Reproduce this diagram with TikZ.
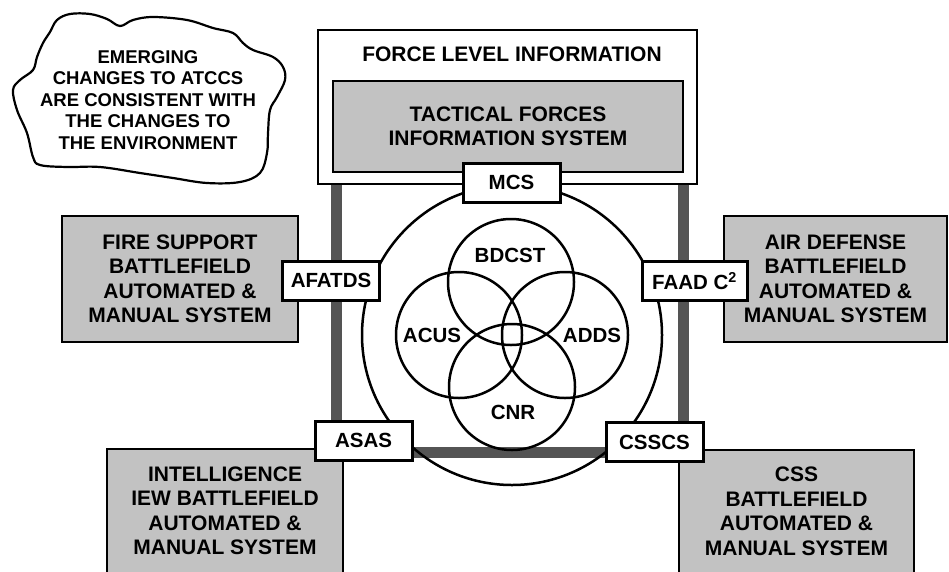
\documentclass[tikz,border=0pt]{standalone}
\usepackage{fontspec}
\setmainfont{Liberation Sans}
\usepackage{xcolor}
\usepackage{tikz}
\usetikzlibrary{backgrounds}
\definecolor{halftone}{gray}{0.76}
\definecolor{busgray}{gray}{0.33}

\begin{document}
\begin{tikzpicture}[x=1pt,y=-1pt]

	\tikzstyle{sysbox}=[draw,line width=2.5pt,fill=halftone,align=center,inner sep=0pt,font=\bfseries\fontsize{21}{24.5}\selectfont]
	\tikzstyle{tag}=[draw,line width=3pt,fill=white,minimum width=97pt,minimum height=39pt,inner sep=0pt,font=\bfseries\fontsize{20.5}{24}\selectfont]
	\tikzstyle{net}=[circle,draw,line width=2.5pt,inner sep=0pt]
	\tikzstyle{netlabel}=[font=\bfseries\fontsize{20.5}{24}\selectfont]
	\tikzstyle{bus}=[line width=11pt,draw=busgray]

	\useasboundingbox (0,0) rectangle (949,571);
	\clip (0,0) rectangle (949,571);

	% cloud
	\draw[line width=2.2pt] plot[smooth cycle,tension=0.6] coordinates {
		(50,32) (57,20) (70,14) (90,14) (107,19) (120,26) (133,20) (153,17)
		(187,20) (213,28) (233,33) (243,43) (253,50) (273,57) (283,67) (285,80)
		(277,97) (270,110) (268,133) (267,153) (260,173) (240,182) (207,183)
		(173,178) (140,173) (100,167) (67,167) (40,165) (33,157) (27,133)
		(17,110) (13,90) (20,80) (33,70) (37,57) (43,43)};
	\node[align=center,font=\bfseries\fontsize{18.5}{21.5}\selectfont] (cloudtext) at (148,100)
		{EMERGING\\CHANGES TO ATCCS\\ARE CONSISTENT WITH\\THE CHANGES TO\\THE ENVIRONMENT};

	% force level
	\node[draw,line width=2.5pt,minimum width=379pt,minimum height=154pt] (force) at (507.5,107) {};
	\node[font=\bfseries\fontsize{21}{24.5}\selectfont] (forcetitle) at (512,54) {FORCE LEVEL INFORMATION};
	\node[sysbox,minimum width=350pt,minimum height=91pt] (tfis) at (508,126.5) {TACTICAL FORCES\\INFORMATION SYSTEM};

	% networks
	\node[net,minimum size=300pt] (ring) at (512,335) {};
	\node[net,minimum size=126pt] (bdcst) at (511,282) {};
	\node[net,minimum size=126pt] (cnr) at (512,387) {};
	\node[net,minimum size=126pt] (acus) at (459,335) {};
	\node[net,minimum size=126pt] (adds) at (565,335) {};
	\node[netlabel] (bdcstlabel) at (510,255) {BDCST};
	\node[netlabel] (cnrlabel) at (513,412) {CNR};
	\node[netlabel] (acuslabel) at (432,335) {ACUS};
	\node[netlabel] (addslabel) at (592,335) {ADDS};

	% battlefield systems
	\node[sysbox,minimum width=236pt,minimum height=126pt] (fire) at (180,279) {FIRE SUPPORT\\BATTLEFIELD\\AUTOMATED \&\\MANUAL SYSTEM};
	\node[sysbox,minimum width=223pt,minimum height=126pt] (air) at (835.5,279) {AIR DEFENSE\\BATTLEFIELD\\AUTOMATED \&\\MANUAL SYSTEM};
	\node[sysbox,minimum width=236pt,minimum height=124pt] (intel) at (225,511) {INTELLIGENCE\\IEW BATTLEFIELD\\AUTOMATED \&\\MANUAL SYSTEM};
	\node[sysbox,minimum width=235pt,minimum height=123pt] (css) at (796.5,511.5) {CSS\\BATTLEFIELD\\AUTOMATED \&\\MANUAL SYSTEM};

	% tags
	\node[tag] (mcs) at (511.5,182.5) {MCS};
	\node[tag] (afatds) at (331,280.5) {AFATDS};
	\node[tag,minimum width=105pt] (faad) at (694.5,281) {FAAD C\textsuperscript{2}};
	\node[tag] (asas) at (363.5,440.5) {ASAS};
	\node[tag] (csscs) at (654.5,442) {CSSCS};

	% buses
	\begin{scope}[on background layer]
	\draw[bus] ([xshift=20pt]force.south west) -- ([xshift=20pt]force.south west |- asas.north);
	\draw[bus] ([xshift=-15pt]force.south east) -- ([xshift=-15pt]force.south east |- csscs.north);
	\draw[bus] ([yshift=-12pt]asas.east) -- ([yshift=-12pt]asas.east -| csscs.west);
	\end{scope}

\end{tikzpicture}
\end{document}
